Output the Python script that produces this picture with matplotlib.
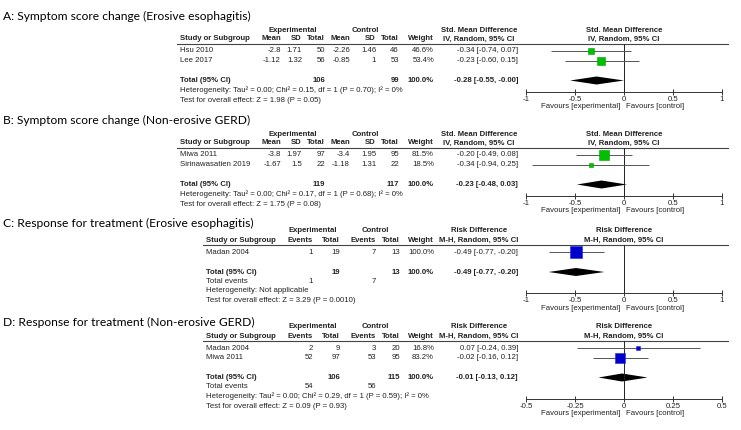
import matplotlib.pyplot as plt

plt.rcParams['axes.unicode_minus'] = False

# ---------------- data ----------------
# A: continuous outcome
title_a = "A: Symptom score change (Erosive esophagitis)"
study_a = ["Hsu 2010", "Lee 2017"]
exp_mean_a = [-2.8, -1.12]
exp_sd_a = [1.71, 1.32]
exp_n_a = [50, 56]
ctl_mean_a = [-2.26, -0.85]
ctl_sd_a = [1.46, 1]
ctl_n_a = [46, 53]
weight_a = [46.6, 53.4]
est_a = [-0.34, -0.23]
lo_a = [-0.74, -0.60]
hi_a = [0.07, 0.15]
total_a = [-0.28, -0.55, -0.00]
tot_n_a = [106, 99]
het_a = "Heterogeneity: Tau\u00b2 = 0.00; Chi\u00b2 = 0.15, df = 1 (P = 0.70); I\u00b2 = 0%"
z_a = "Test for overall effect: Z = 1.98 (P = 0.05)"

# B: continuous outcome
title_b = "B: Symptom score change (Non-erosive GERD)"
study_b = ["Miwa 2011", "Sirinawasatien 2019"]
exp_mean_b = [-3.8, -1.67]
exp_sd_b = [1.97, 1.5]
exp_n_b = [97, 22]
ctl_mean_b = [-3.4, -1.18]
ctl_sd_b = [1.95, 1.31]
ctl_n_b = [95, 22]
weight_b = [81.5, 18.5]
est_b = [-0.20, -0.34]
lo_b = [-0.49, -0.94]
hi_b = [0.08, 0.25]
total_b = [-0.23, -0.48, 0.03]
tot_n_b = [119, 117]
het_b = "Heterogeneity: Tau\u00b2 = 0.00; Chi\u00b2 = 0.17, df = 1 (P = 0.68); I\u00b2 = 0%"
z_b = "Test for overall effect: Z = 1.75 (P = 0.08)"

# C: dichotomous outcome
title_c = "C: Response for treatment (Erosive esophagitis)"
study_c = ["Madan 2004"]
exp_ev_c = [1]
exp_n_c = [19]
ctl_ev_c = [7]
ctl_n_c = [13]
weight_c = [100.0]
est_c = [-0.49]
lo_c = [-0.77]
hi_c = [-0.20]
total_c = [-0.49, -0.77, -0.20]
tot_n_c = [19, 13]
tot_ev_c = [1, 7]
het_c = "Heterogeneity: Not applicable"
z_c = "Test for overall effect: Z = 3.29 (P = 0.0010)"

# D: dichotomous outcome
title_d = "D: Response for treatment (Non-erosive GERD)"
study_d = ["Madan 2004", "Miwa 2011"]
exp_ev_d = [2, 52]
exp_n_d = [9, 97]
ctl_ev_d = [3, 53]
ctl_n_d = [20, 95]
weight_d = [16.8, 83.2]
est_d = [0.07, -0.02]
lo_d = [-0.24, -0.16]
hi_d = [0.39, 0.12]
total_d = [-0.01, -0.13, 0.12]
tot_n_d = [106, 115]
tot_ev_d = [54, 56]
het_d = "Heterogeneity: Tau\u00b2 = 0.00; Chi\u00b2 = 0.29, df = 1 (P = 0.59); I\u00b2 = 0%"
z_d = "Test for overall effect: Z = 0.09 (P = 0.93)"

ticks_abc = [-1, -0.5, 0, 0.5, 1]
tick_labels_abc = ["-1", "-0.5", "0", "0.5", "1"]
ticks_d = [-0.5, -0.25, 0, 0.25, 0.5]
tick_labels_d = ["-0.5", "-0.25", "0", "0.25", "0.5"]

smd_head = ["Std. Mean Difference", "IV, Random, 95% CI"]
rd_head = ["Risk Difference", "M-H, Random, 95% CI"]

# ---------------- layout ----------------
W, H = 741, 430
TF = 'Liberation Sans'
FS = 5.6
TC = '#222222'
X_LEFT, X_RIGHT = 526, 722
X_ZERO = (X_LEFT + X_RIGHT) / 2

fig = plt.figure(figsize=(W / 100, H / 100), dpi=100)
base = fig.add_axes([0, 0, 1, 1])
base.set_xlim(0, W)
base.set_ylim(H, 0)
base.axis('off')


def t(x, y, s, ha='left', bold=False):
    base.text(x, y, s, ha=ha, va='center', fontsize=FS, family=TF, color=TC,
              fontweight='bold' if bold else 'normal')


def fmt_ci(v):
    return '%.2f [%.2f, %.2f]' % tuple(v)


def forest(line_y, axis_y, xlim, ticks, labels, est, lo, hi, w, rows, tot, tot_y, color, edge):
    ax = fig.add_axes([X_LEFT / W, 1 - axis_y / H, (X_RIGHT - X_LEFT) / W, (axis_y - line_y) / H])
    ax.set_xlim(*xlim)
    ax.set_ylim(axis_y, line_y)
    ax.patch.set_alpha(0)
    for s in ['top', 'left', 'right']:
        ax.spines[s].set_visible(False)
    ax.spines['bottom'].set_color('#333333')
    ax.spines['bottom'].set_linewidth(0.7)
    ax.set_yticks([])
    ax.set_xticks(ticks)
    ax.set_xticklabels(labels, fontsize=FS, family=TF, color=TC)
    ax.tick_params(axis='x', direction='inout', length=5, width=0.7, pad=0.5, color='#333333')
    ax.axvline(0, color='#222222', lw=0.7)
    ax.hlines(rows, lo, hi, color='#555555', lw=0.7)
    for x, y, wt in zip(est, rows, w):
        side = 2 + 0.1 * wt
        ax.plot(x, y, marker='s', ms=side * 0.72, color=color, mec=edge, mew=0.4)
    m, l, h = tot
    ax.fill([l, m, h, m], [tot_y, tot_y - 4, tot_y, tot_y + 4], color='black', lw=0)
    base.text(X_ZERO - 4, axis_y + 15, 'Favours [experimental]', ha='right', va='center',
              fontsize=FS, family=TF, color=TC)
    base.text(X_ZERO + 2, axis_y + 15, 'Favours [control]', ha='left', va='center',
              fontsize=FS, family=TF, color=TC)


def headers(title, title_y, line_y, x0, exp_x, ctl_x, cols, names, head):
    base.text(3, title_y, title, ha='left', va='center', fontsize=8.65, family='Lato', color='black')
    t(exp_x, line_y - 14, 'Experimental', 'center', True)
    t(ctl_x, line_y - 14, 'Control', 'center', True)
    t(479, line_y - 14, head[0], 'center', True)
    t(X_ZERO, line_y - 14, head[0], 'center', True)
    t(x0, line_y - 5, 'Study or Subgroup', bold=True)
    for x, s in zip(cols, names):
        t(x, line_y - 5, s, 'right', True)
    t(479, line_y - 5, head[1], 'center', True)
    t(X_ZERO, line_y - 5, head[1], 'center', True)
    base.plot([x0 - 3, 728], [line_y, line_y], color='#444444', lw=0.8)


def continuous(title, title_y, line_y, study, em, esd, en, cm, csd, cn, w, est, lo, hi,
               tot, totn, het, z, color, edge):
    cols = [281, 302, 325, 350, 376, 399, 434]
    headers(title, title_y, line_y, 180, 293, 365, cols,
            ['Mean', 'SD', 'Total', 'Mean', 'SD', 'Total', 'Weight'], smd_head)
    rows = [line_y + 7 + 9.5 * i for i in range(len(study))]
    for i, y in enumerate(rows):
        t(180, y, study[i])
        vals = ['%g' % em[i], '%g' % esd[i], '%d' % en[i], '%g' % cm[i], '%g' % csd[i],
                '%d' % cn[i], '%.1f%%' % w[i]]
        for x, s in zip(cols, vals):
            t(x, y, s, 'right')
        t(518, y, fmt_ci([est[i], lo[i], hi[i]]), 'right')
    ty = rows[-1] + 20
    t(180, ty, 'Total (95% CI)', bold=True)
    t(cols[2], ty, '%d' % totn[0], 'right', True)
    t(cols[5], ty, '%d' % totn[1], 'right', True)
    t(cols[6], ty, '100.0%', 'right', True)
    t(518, ty, fmt_ci(tot), 'right', True)
    t(180, ty + 10, het)
    t(180, ty + 19.5, z)
    axis_y = ty + 11
    forest(line_y, axis_y, (-1, 1), ticks_abc, tick_labels_abc, est, lo, hi, w, rows,
           tot, ty, color, edge)


def binary(title, title_y, line_y, study, ee, en, ce, cn, w, est, lo, hi, tot, totn, totev,
           het, z, ticks, labels):
    cols = [313, 340, 376, 400, 434]
    x0 = 206
    headers(title, title_y, line_y, x0, 313, 375, cols,
            ['Events', 'Total', 'Events', 'Total', 'Weight'], rd_head)
    rows = [line_y + 7 + 9.5 * i for i in range(len(study))]
    for i, y in enumerate(rows):
        t(x0, y, study[i])
        vals = ['%d' % ee[i], '%d' % en[i], '%d' % ce[i], '%d' % cn[i], '%.1f%%' % w[i]]
        for x, s in zip(cols, vals):
            t(x, y, s, 'right')
        t(518, y, fmt_ci([est[i], lo[i], hi[i]]), 'right')
    ty = rows[-1] + 20
    t(x0, ty, 'Total (95% CI)', bold=True)
    t(cols[1], ty, '%d' % totn[0], 'right', True)
    t(cols[3], ty, '%d' % totn[1], 'right', True)
    t(cols[4], ty, '100.0%', 'right', True)
    t(518, ty, fmt_ci(tot), 'right', True)
    t(x0, ty + 9.5, 'Total events')
    t(cols[0], ty + 9.5, '%d' % totev[0], 'right')
    t(cols[2], ty + 9.5, '%d' % totev[1], 'right')
    t(x0, ty + 19, het)
    t(x0, ty + 28.5, z)
    axis_y = ty + 21
    forest(line_y, axis_y, (ticks[0], ticks[-1]), ticks, labels, est, lo, hi, w, rows,
           tot, ty, '#0000cc', '#2222ee')


continuous(title_a, 16, 44, study_a, exp_mean_a, exp_sd_a, exp_n_a, ctl_mean_a, ctl_sd_a,
           ctl_n_a, weight_a, est_a, lo_a, hi_a, total_a, tot_n_a, het_a, z_a,
           '#00c000', '#00a000')
continuous(title_b, 120, 148, study_b, exp_mean_b, exp_sd_b, exp_n_b, ctl_mean_b, ctl_sd_b,
           ctl_n_b, weight_b, est_b, lo_b, hi_b, total_b, tot_n_b, het_b, z_b,
           '#00c000', '#00a000')
binary(title_c, 223, 245, study_c, exp_ev_c, exp_n_c, ctl_ev_c, ctl_n_c, weight_c, est_c,
       lo_c, hi_c, total_c, tot_n_c, tot_ev_c, het_c, z_c, ticks_abc, tick_labels_abc)
binary(title_d, 322, 341, study_d, exp_ev_d, exp_n_d, ctl_ev_d, ctl_n_d, weight_d, est_d,
       lo_d, hi_d, total_d, tot_n_d, tot_ev_d, het_d, z_d, ticks_d, tick_labels_d)

fig.savefig('out.png', dpi=100)
